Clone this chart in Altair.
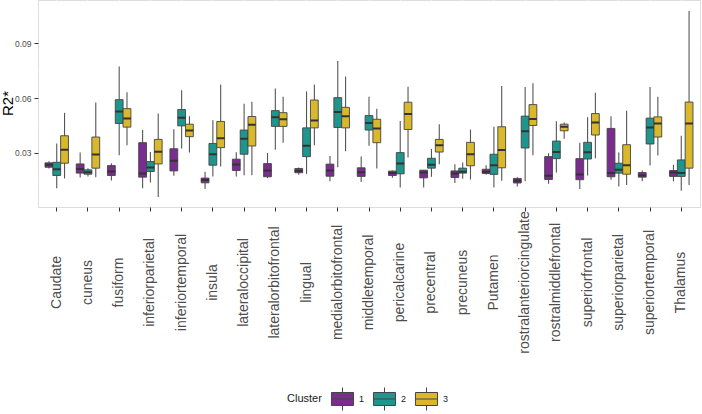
import altair as alt
import pandas as pd

# Brain regions on the x axis, in display order
regions = [
    "Caudate", "cuneus", "fusiform", "inferiorparietal", "inferiortemporal",
    "insula", "lateraloccipital", "lateralorbitofrontal", "lingual",
    "medialorbitofrontal", "middletemporal", "pericalcarine", "precentral",
    "precuneus", "Putamen", "rostralanteriorcingulate", "rostralmiddlefrontal",
    "superiorfrontal", "superiorparietal", "superiortemporal", "Thalamus",
]
clusters = ["1", "2", "3"]

# Box statistics per cluster: lower whisker, Q1, median, Q3, upper whisker
c1_lo  = [0.0215, 0.0166, 0.0150, 0.0108, 0.0175, 0.0103, 0.0172, 0.0163, 0.0181, 0.0145, 0.0141,
          0.0164, 0.0112, 0.0136, 0.0181, 0.0117, 0.0132, 0.0103, 0.0154, 0.0145, 0.0145]
c1_q1  = [0.0222, 0.0190, 0.0177, 0.0168, 0.0202, 0.0137, 0.0204, 0.0170, 0.0192, 0.0173, 0.0172,
          0.0177, 0.0164, 0.0166, 0.0188, 0.0136, 0.0155, 0.0154, 0.0170, 0.0168, 0.0172]
c1_med = [0.0235, 0.0213, 0.0199, 0.0188, 0.0258, 0.0152, 0.0237, 0.0204, 0.0202, 0.0204, 0.0195,
          0.0190, 0.0193, 0.0188, 0.0197, 0.0148, 0.0175, 0.0183, 0.0190, 0.0177, 0.0193]
c1_q3  = [0.0246, 0.0240, 0.0231, 0.0356, 0.0323, 0.0163, 0.0266, 0.0242, 0.0215, 0.0239, 0.0219,
          0.0201, 0.0206, 0.0202, 0.0211, 0.0161, 0.0280, 0.0269, 0.0434, 0.0193, 0.0204]
c1_hi  = [0.0255, 0.0302, 0.0244, 0.0425, 0.0430, 0.0197, 0.0304, 0.0300, 0.0220, 0.0284, 0.0280,
          0.0204, 0.0206, 0.0239, 0.0233, 0.0168, 0.0298, 0.0356, 0.0501, 0.0204, 0.0235]

c2_lo  = [0.0108, 0.0172, 0.0287, 0.0139, 0.0325, 0.0172, 0.0179, 0.0318, 0.0186, 0.0222, 0.0340,
          0.0112, 0.0170, 0.0159, 0.0112, 0.0145, 0.0193, 0.0177, 0.0117, 0.0231, 0.0094]
c2_q1  = [0.0177, 0.0184, 0.0461, 0.0199, 0.0448, 0.0233, 0.0293, 0.0445, 0.0280, 0.0439, 0.0425,
          0.0186, 0.0217, 0.0190, 0.0183, 0.0327, 0.0269, 0.0267, 0.0190, 0.0349, 0.0172]
c2_med = [0.0211, 0.0195, 0.0526, 0.0220, 0.0492, 0.0293, 0.0378, 0.0495, 0.0340, 0.0524, 0.0464,
          0.0242, 0.0235, 0.0197, 0.0233, 0.0419, 0.0305, 0.0304, 0.0208, 0.0439, 0.0190]
c2_q3  = [0.0249, 0.0208, 0.0591, 0.0253, 0.0537, 0.0352, 0.0425, 0.0531, 0.0437, 0.0602, 0.0504,
          0.0302, 0.0271, 0.0217, 0.0293, 0.0501, 0.0365, 0.0358, 0.0244, 0.0490, 0.0262]
c2_hi  = [0.0352, 0.0217, 0.0772, 0.0305, 0.0642, 0.0479, 0.0569, 0.0652, 0.0636, 0.0802, 0.0607,
          0.0475, 0.0322, 0.0248, 0.0443, 0.0660, 0.0473, 0.0495, 0.0302, 0.0660, 0.0394]

c3_lo  = [0.0161, 0.0168, 0.0342, 0.0060, 0.0302, 0.0226, 0.0179, 0.0356, 0.0342, 0.0309, 0.0215,
          0.0275, 0.0239, 0.0155, 0.0148, 0.0287, 0.0378, 0.0271, 0.0125, 0.0286, 0.0125]
c3_q1  = [0.0244, 0.0217, 0.0441, 0.0240, 0.0389, 0.0329, 0.0338, 0.0445, 0.0437, 0.0437, 0.0356,
          0.0428, 0.0305, 0.0230, 0.0219, 0.0450, 0.0421, 0.0398, 0.0184, 0.0387, 0.0217]
c3_med = [0.0318, 0.0291, 0.0488, 0.0307, 0.0423, 0.0380, 0.0454, 0.0484, 0.0477, 0.0501, 0.0434,
          0.0513, 0.0342, 0.0293, 0.0316, 0.0486, 0.0443, 0.0466, 0.0233, 0.0461, 0.0461]
c3_q3  = [0.0394, 0.0387, 0.0542, 0.0374, 0.0457, 0.0472, 0.0499, 0.0520, 0.0589, 0.0549, 0.0484,
          0.0577, 0.0374, 0.0358, 0.0443, 0.0564, 0.0457, 0.0515, 0.0345, 0.0497, 0.0578]
c3_hi  = [0.0519, 0.0575, 0.0631, 0.0515, 0.0501, 0.0674, 0.0580, 0.0607, 0.0674, 0.0717, 0.0542,
          0.0661, 0.0457, 0.0428, 0.0665, 0.0681, 0.0466, 0.0629, 0.0531, 0.0607, 0.1075]

y_breaks = [0.03, 0.06, 0.09]
minor_breaks = [0.015, 0.045, 0.075, 0.105]
palette = ["#7B2C8F", "#1E968D", "#D9B82B"]

stats = {
    "1": (c1_lo, c1_q1, c1_med, c1_q3, c1_hi),
    "2": (c2_lo, c2_q1, c2_med, c2_q3, c2_hi),
    "3": (c3_lo, c3_q1, c3_med, c3_q3, c3_hi),
}
rows = []
for cl in clusters:
    lo, q1, med, q3, hi = stats[cl]
    for i, reg in enumerate(regions):
        rows.append({"region": reg, "cluster": cl, "lo": lo[i], "q1": q1[i],
                     "med": med[i], "q3": q3[i], "hi": hi[i]})
df = pd.DataFrame(rows)

FONT = "Liberation Sans"
y_scale = alt.Scale(domain=[0.0005, 0.1135], nice=False, zero=False)

x_enc = alt.X(
    "region:N", sort=regions,
    scale=alt.Scale(paddingInner=0.25, paddingOuter=0.225),
    axis=alt.Axis(
        title=None, labelAngle=270, labelAlign="center", labelBaseline="middle",
        labelPadding=71, labelFontSize=14, labelColor="#4D4D4D", labelFont=FONT,
        tickColor="#333333", tickSize=4, domain=False,
        grid=True, gridColor="white", gridWidth=1.1,
    ),
)
off_enc = alt.XOffset("cluster:N", sort=clusters,
                      scale=alt.Scale(paddingInner=0, paddingOuter=0))

base = alt.Chart(df).encode(x=x_enc, xOffset=off_enc)

whiskers = base.mark_rule(color="#555555", strokeWidth=1.1).encode(
    y=alt.Y("lo:Q", scale=y_scale,
            axis=alt.Axis(values=y_breaks, format=".2f", title="R2*",
                          labelFontSize=8.5, labelColor="#4D4D4D", labelFont=FONT,
                          labelPadding=3, tickColor="#333333", tickSize=4,
                          domain=False, gridColor="white", gridWidth=1.1,
                          titleFont=FONT, titleFontSize=15, titleFontWeight="normal",
                          titleColor="#000000", titleX=-23, titleY=103,
                          titleAngle=270, titleBaseline="bottom", titleAlign="center")),
    y2="hi:Q",
)

boxes = base.mark_bar(stroke="#444444", strokeWidth=0.9).encode(
    y=alt.Y("q1:Q", scale=y_scale),
    y2="q3:Q",
    fill=alt.Fill(
        "cluster:N", sort=clusters,
        scale=alt.Scale(domain=clusters, range=palette),
        legend=alt.Legend(
            title="Cluster", orient="none", direction="horizontal",
            legendX=249, legendY=386, titleOrient="left", titleAnchor="middle",
            titleBaseline="middle",
            titleFont=FONT, titleFontSize=11, titleFontWeight="normal",
            titleColor="#1A1A1A", titlePadding=8,
            labelFont=FONT, labelFontSize=9, labelColor="#1A1A1A", labelOffset=4,
            symbolType="M-0.92,-0.54H0.92V0.54H-0.92Z M-0.92,0H0.92 M0,-0.54V-0.96 M0,0.54V0.96",
            symbolSize=576, symbolStrokeColor="#444444", symbolStrokeWidth=1,
            symbolOpacity=1, columnPadding=6,
        ),
    ),
)

medians = base.mark_bar(stroke="#333333", strokeWidth=2, fill="transparent").encode(
    y=alt.Y("med:Q", scale=y_scale),
    y2="med:Q",
)

minor_grid = alt.Chart(pd.DataFrame({"v": minor_breaks})).mark_rule(
    color="white", strokeWidth=0.5
).encode(y=alt.Y("v:Q", scale=y_scale))

chart = alt.layer(minor_grid, whiskers, boxes, medians).properties(
    width=662, height=207,
    padding={"left": 38, "top": 0, "right": 2, "bottom": 207},
    autosize=alt.AutoSizeParams(type="none"),
).configure_view(
    fill="#EBEBEB", stroke=None
).configure(
    background="white"
)

chart.save("out.html", embed_options={"renderer": "svg", "actions": False})
